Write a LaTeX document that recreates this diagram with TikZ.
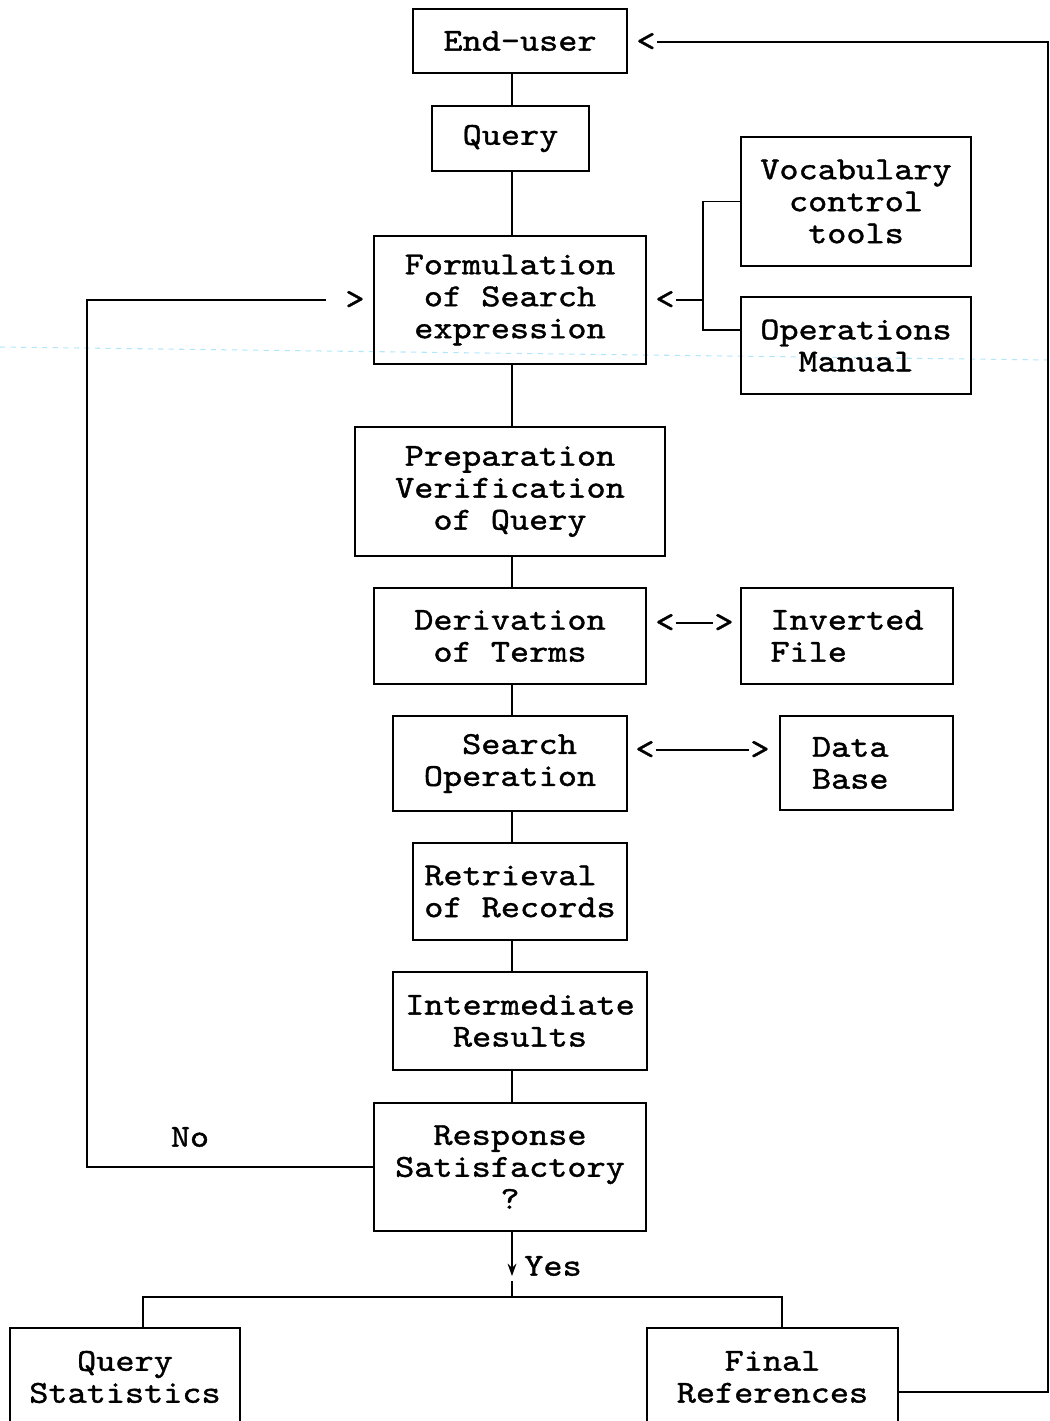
\documentclass[tikz,border=0pt]{standalone}
\usepackage{fontspec}
\newfontfamily\typer{lmmono10-regular.otf}[FakeStretch=1.14,FakeBold=1.2]
\usetikzlibrary{arrows.meta}
\begin{document}
\begin{tikzpicture}[x=0.02cm,y=-0.02cm,line width=1.1pt,
  font=\typer\fontsize{18.2}{18.2}\selectfont,
  box/.style={draw,align=center,inner sep=0pt},
  tip/.style={inner sep=0pt},
  link/.style={shorten >=0.37cm}]
  \useasboundingbox (0,0) rectangle (1050,1421);
  \clip (0,0) rectangle (1050,1421);
  \draw[cyan!30,dashed,line width=0.6pt] (0,347) -- (1050,360);
  \node[box,minimum width=4.28cm,minimum height=1.28cm] (eu) at (520,41) {End-user};
  \node[box,minimum width=3.14cm,minimum height=1.3cm] (query) at (510.5,138.5) {Query};
  \node[box,minimum width=5.44cm,minimum height=2.56cm] (form) at (510,300) {Formulation\\of Search\\expression};
  \node[box,minimum width=4.6cm,minimum height=2.58cm] (vocab) at (856,201.5) {Vocabulary\\control\\tools};
  \node[box,minimum width=4.6cm,minimum height=1.94cm] (opman) at (856,345.5) {Operations\\Manual};
  \node[box,minimum width=6.2cm,minimum height=2.58cm] (prep) at (510,491.5) {Preparation\\Verification\\of Query};
  \node[box,minimum width=5.44cm,minimum height=1.92cm] (deriv) at (510,636) {Derivation\\of Terms};
  \node[box,align=left,minimum width=4.24cm,minimum height=1.92cm] (inv) at (847,636) {Inverted\\File};
  \node[box,minimum width=4.68cm,minimum height=1.9cm] (search) at (510,763.5) {\ Search\\Operation};
  \node[box,align=left,text width=2.18cm,minimum width=3.46cm,minimum height=1.88cm] (dbase) at (866.5,763) {Data\\Base};
  \node[box,align=left,minimum width=4.28cm,minimum height=1.94cm] (retr) at (520,891.5) {Retrieval\\of Records};
  \node[box,minimum width=5.08cm,minimum height=1.96cm] (inter) at (520,1021) {Intermediate\\Results};
  \node[box,minimum width=5.44cm,minimum height=2.56cm] (resp) at (510,1167) {Response\\Satisfactory\\?};
  \node[box,minimum width=4.6cm,minimum height=1.96cm] (stats) at (125,1377) {Query\\Statistics};
  \node[box,minimum width=5.02cm,minimum height=1.96cm] (refs) at (772.5,1377) {Final\\References};
  \coordinate (trunk) at (512,0);
  \foreach \a/\b in {eu/query,query/form,form/prep,prep/deriv,deriv/search,search/retr,retr/inter,inter/resp}
    \draw (\a.south -| trunk) -- (\b.north -| trunk);
  \node[tip] (euTip) at (646,42) {<};
  \coordinate (fbCorner) at (1048,42);
  \draw (refs.east |- 0,1392) -| (fbCorner) -- (euTip.east);
  \node[tip] (formTip) at (665,300) {<};
  \coordinate (brk) at (703,300);
  \draw (vocab.west) -| (brk) |- (opman.west |- 0,330);
  \draw (brk) -- (formTip.east);
  \node[tip] (loopTip) at (355,300) {>};
  \coordinate (noCorner) at (87,1167);
  \draw[link] (resp.west) -- (noCorner) |- (loopTip.west);
  \node (no) at (190,1137) {No};
  \node[tip] (invL) at (665,623) {<};
  \node[tip] (invR) at (724,623) {>};
  \draw (invL) -- (invR);
  \node[tip] (dbL) at (645,750) {<};
  \node[tip] (dbR) at (760,750) {>};
  \draw (dbL) -- (dbR);
  \coordinate (yesArr) at (512,1276);
  \coordinate (yesGap) at (512,1281);
  \coordinate (split) at (512,1297);
  \draw[-{Stealth[length=7pt,width=5pt]}] (resp.south -| trunk) -- (yesArr);
  \draw (yesGap) -- (split);
  \node (yes) at (553,1266) {Yes};
  \coordinate (splitL) at (143,1297);
  \coordinate (splitR) at (782,1297);
  \draw (splitL |- stats.north) -- (splitL) -- (splitR) -- (splitR |- refs.north);
\end{tikzpicture}
\end{document}
